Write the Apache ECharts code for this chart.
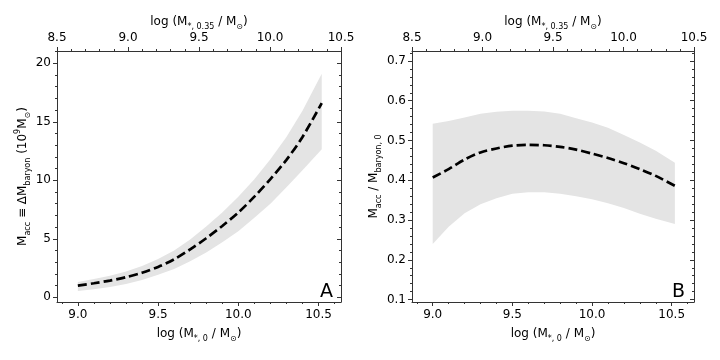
<!DOCTYPE html>
<html lang="en" style="height: 100%">
<head>
    <meta charset="UTF-8">
    <title>Macc</title>
    <script src="https://cdn.jsdelivr.net/npm/echarts@6/dist/echarts.min.js"></script>
</head>
<body style="height: 100%; margin: 0">
<div id="main" style="width: 720px; height: 360px"></div>
<script>
    // x positions, log(M*,0/Msun)
    var xs = [9.0, 9.1, 9.2, 9.3, 9.4, 9.5, 9.6, 9.7, 9.8, 9.9, 10.0, 10.1, 10.2, 10.3, 10.4, 10.52];

    // panel A: Macc (1e9 Msun)
    var accMid = [1.0, 1.2, 1.43, 1.72, 2.1, 2.6, 3.25, 4.1, 5.05, 6.1, 7.25, 8.6, 10.1, 11.75, 13.7, 16.6];
    var accLow = [0.55, 0.7, 0.89, 1.13, 1.47, 1.92, 2.42, 3.08, 3.83, 4.7, 5.65, 6.8, 8.0, 9.4, 10.85, 12.65];
    var accHigh = [1.3, 1.56, 1.85, 2.21, 2.68, 3.28, 4.0, 4.95, 6.05, 7.25, 8.6, 10.1, 11.8, 13.7, 15.95, 19.1];

    // panel B: Macc / Mbaryon,0
    var fracMid = [0.407, 0.428, 0.452, 0.470, 0.480, 0.487, 0.489, 0.488, 0.484, 0.477, 0.467, 0.456, 0.443, 0.428, 0.411, 0.386];
    var fracLow = [0.240, 0.283, 0.317, 0.340, 0.355, 0.366, 0.370, 0.370, 0.366, 0.360, 0.352, 0.342, 0.330, 0.316, 0.303, 0.290];
    var fracHigh = [0.542, 0.549, 0.558, 0.567, 0.572, 0.575, 0.575, 0.573, 0.567, 0.556, 0.545, 0.532, 0.514, 0.495, 0.474, 0.444];

    var xTicks = [9.0, 9.5, 10.0, 10.5];
    var accTicks = [0, 5, 10, 15, 20];
    var fracTicks = [0.1, 0.2, 0.3, 0.4, 0.5, 0.6, 0.7];

    var font = 'DejaVu Sans';
    var axisColor = '#333';
    var bandColor = '#e4e4e4';

    var rich = {
        n: {fontFamily: font, fontSize: 12, color: '#000', lineHeight: 18},
        s: {fontFamily: font, fontSize: 8, color: '#000', lineHeight: 10, verticalAlign: 'bottom'},
        p: {fontFamily: font, fontSize: 8, color: '#000', lineHeight: 10, verticalAlign: 'top'}
    };

    function pairs(a) {
        return xs.map(function (x, i) { return [x, a[i]]; });
    }
    function fmt1(v) { return (+v).toFixed(1); }

    function bottomAxis(g) {
        return {
            type: 'value', gridIndex: g, position: 'bottom',
            min: 8.87, max: 10.64, splitNumber: 4,
            name: '{n|log (M}{s|*, 0}{n| / M}{s|⊙}{n|)}',
            nameLocation: 'middle', nameGap: 23,
            nameTextStyle: {rich: rich},
            axisLine: {onZero: false, lineStyle: {color: axisColor, width: 1}},
            axisTick: {customValues: xTicks, length: 4, lineStyle: {color: axisColor}},
            minorTick: {show: true, splitNumber: 5, length: 2, lineStyle: {color: axisColor}},
            axisLabel: {customValues: xTicks, formatter: fmt1, margin: 7, color: '#000', fontFamily: font, fontSize: 12},
            splitLine: {show: false}
        };
    }
    function topAxis(g) {
        return {
            type: 'value', gridIndex: g, position: 'top',
            min: 8.5, max: 10.5, interval: 0.5,
            name: '{n|log (M}{s|*, 0.35}{n| / M}{s|⊙}{n|)}',
            nameLocation: 'middle', nameGap: 20, nameMoveOverlap: false,
            nameTextStyle: {rich: rich},
            axisLine: {onZero: false, lineStyle: {color: axisColor, width: 1}},
            axisTick: {length: 4, lineStyle: {color: axisColor}},
            minorTick: {show: true, splitNumber: 5, length: 2, lineStyle: {color: axisColor}},
            axisLabel: {formatter: fmt1, margin: 7, color: '#000', fontFamily: font, fontSize: 12},
            splitLine: {show: false}
        };
    }
    function leftAxis(g, min, max, ticks, name, gap, f) {
        return {
            type: 'value', gridIndex: g, position: 'left',
            min: min, max: max, splitNumber: 5,
            name: name, nameLocation: 'middle', nameGap: gap, nameRotate: 90,
            nameTextStyle: {rich: rich},
            axisLine: {onZero: false, lineStyle: {color: axisColor, width: 1}},
            axisTick: {customValues: ticks, length: 4, lineStyle: {color: axisColor}},
            minorTick: {show: true, splitNumber: 5, length: 2, lineStyle: {color: axisColor}},
            axisLabel: {customValues: ticks, formatter: f, margin: 6, color: '#000', fontFamily: font, fontSize: 12},
            splitLine: {show: false}
        };
    }
    function rightAxis(g, min, max, ticks) {
        return {
            type: 'value', gridIndex: g, position: 'right',
            min: min, max: max, splitNumber: 5,
            axisLine: {onZero: false, lineStyle: {color: axisColor, width: 1}},
            axisTick: {customValues: ticks, inside: true, length: 4, lineStyle: {color: axisColor}},
            minorTick: {show: true, splitNumber: 5, length: 2, lineStyle: {color: axisColor}},
            axisLabel: {show: false},
            splitLine: {show: false}
        };
    }

    // shaded range between lo and hi, drawn as one polygon through the axis scales
    function bandSeries(ax, ay, lo, hi, mid) {
        var rows = xs.map(function (x, i) { return [x, lo[i], hi[i]]; });
        return [
            {
                type: 'custom', xAxisIndex: ax, yAxisIndex: ay, silent: true, z: 1,
                data: rows,
                encode: {x: 0, y: [1, 2]},
                renderItem: function (params, api) {
                    if (params.dataIndex !== 0) return null;
                    var pts = [];
                    rows.forEach(function (r) { pts.push(api.coord([r[0], r[2]])); });
                    rows.slice().reverse().forEach(function (r) { pts.push(api.coord([r[0], r[1]])); });
                    return {
                        type: 'polygon',
                        shape: {points: pts},
                        style: {fill: bandColor}
                    };
                }
            },
            {
                type: 'line', xAxisIndex: ax, yAxisIndex: ay,
                data: pairs(mid), showSymbol: false, symbol: 'none', smooth: 0.3,
                lineStyle: {color: '#000', width: 2.7, type: [9, 4]}, z: 5
            }
        ];
    }

    var option = {
        animation: false,
        backgroundColor: '#fff',
        grid: [
            {left: 57, top: 51, width: 284, height: 251},
            {left: 412, top: 51, width: 282, height: 251}
        ],
        xAxis: [bottomAxis(0), topAxis(0), bottomAxis(1), topAxis(1)],
        yAxis: [
            leftAxis(0, -0.4, 21.05, accTicks,
                '{n|M}{s|acc}{n| ≡ ΔM}{s|baryon}{n| (10}{p|9}{n|M}{s|⊙}{n|)}', 23, function (v) { return String(Math.round(v)); }),
            rightAxis(0, -0.4, 21.05, accTicks),
            leftAxis(1, 0.094, 0.725, fracTicks,
                '{n|M}{s|acc}{n| / M}{s|baryon, 0}', 29, fmt1),
            rightAxis(1, 0.094, 0.725, fracTicks)
        ],
        graphic: [
            {type: 'text', style: {text: 'A', x: 333, y: 292, align: 'right', verticalAlign: 'middle', font: '19px "DejaVu Sans"', fill: '#000'}},
            {type: 'text', style: {text: 'B', x: 685, y: 292, align: 'right', verticalAlign: 'middle', font: '19px "DejaVu Sans"', fill: '#000'}}
        ],
        series: [].concat(
            bandSeries(0, 0, accLow, accHigh, accMid),
            bandSeries(2, 2, fracLow, fracHigh, fracMid)
        )
    };

    var myChart = echarts.init(document.getElementById('main'));
    myChart.setOption(option);
</script>
</body>
</html>
